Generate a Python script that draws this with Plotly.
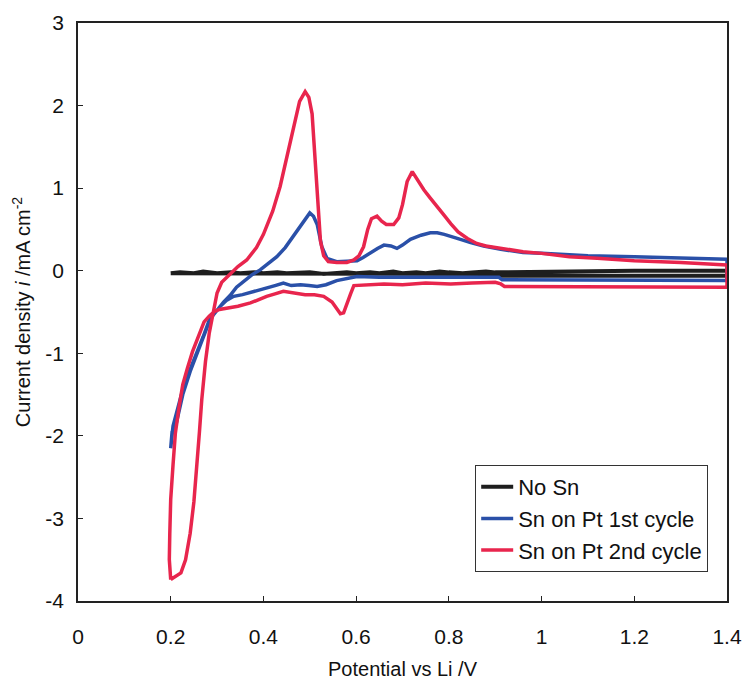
import plotly.graph_objects as go

# ---- data ----
no_sn_x = [0.20, 0.22, 0.25, 0.27, 0.30, 0.33, 0.35, 0.38, 0.40, 0.43, 0.45, 0.48, 0.50, 0.53, 0.55, 0.58,
           0.60, 0.63, 0.65, 0.68, 0.70, 0.73, 0.75, 0.78, 0.80, 0.83, 0.85, 0.88, 0.90, 1.00, 1.10, 1.20, 1.30, 1.40,
           1.40, 1.30, 1.20, 1.10, 1.00, 0.91, 0.90, 0.80, 0.70, 0.60, 0.50, 0.40, 0.30, 0.20]
no_sn_y = [-0.03, -0.02, -0.03, -0.01, -0.03, -0.02, -0.03, -0.02, -0.03, -0.02, -0.03, -0.03, -0.02, -0.04, -0.03, -0.02,
           -0.03, -0.02, -0.03, -0.01, -0.03, -0.02, -0.03, -0.01, -0.02, -0.03, -0.02, -0.01, -0.02, -0.01, -0.01, 0.00, 0.00, 0.00,
           -0.06, -0.06, -0.06, -0.06, -0.06, -0.06, -0.04, -0.04, -0.04, -0.04, -0.04, -0.03, -0.03, -0.03]

c1_x = [0.200, 0.203, 0.212, 0.226, 0.242, 0.258, 0.272, 0.283, 0.293, 0.300, 0.314, 0.328, 0.342, 0.357, 0.375,
        0.393, 0.410, 0.429, 0.447, 0.465, 0.485, 0.500, 0.508, 0.516, 0.526, 0.537, 0.558, 0.580, 0.602, 0.615,
        0.631, 0.646, 0.660, 0.675, 0.688, 0.700, 0.717, 0.740, 0.760, 0.775, 0.790, 0.804, 0.825, 0.847, 0.875,
        0.912, 0.960, 1.000, 1.100, 1.200, 1.300, 1.400,
        1.400, 1.300, 1.200, 1.100, 1.000, 0.915, 0.908, 0.850, 0.800, 0.750, 0.700, 0.650, 0.602, 0.580, 0.558,
        0.535, 0.516, 0.498, 0.480, 0.460, 0.443, 0.425, 0.407, 0.390, 0.372, 0.355, 0.336, 0.320, 0.307, 0.293,
        0.283, 0.270, 0.252, 0.238, 0.226, 0.214, 0.205, 0.200]
c1_y = [-2.15, -1.95, -1.85, -1.50, -1.22, -0.98, -0.76, -0.62, -0.52, -0.48, -0.38, -0.30, -0.20, -0.13, -0.05,
        0.01, 0.09, 0.17, 0.28, 0.42, 0.58, 0.70, 0.66, 0.56, 0.29, 0.15, 0.11, 0.11, 0.12, 0.16,
        0.22, 0.27, 0.31, 0.30, 0.27, 0.31, 0.38, 0.43, 0.46, 0.46, 0.44, 0.42, 0.38, 0.34, 0.30,
        0.26, 0.22, 0.21, 0.18, 0.17, 0.15, 0.14,
        -0.12, -0.12, -0.12, -0.11, -0.11, -0.11, -0.08, -0.08, -0.09, -0.08, -0.09, -0.08, -0.07, -0.09, -0.12,
        -0.17, -0.19, -0.18, -0.17, -0.18, -0.15, -0.18, -0.21, -0.24, -0.27, -0.29, -0.31, -0.36, -0.43, -0.52,
        -0.60, -0.80, -1.04, -1.25, -1.44, -1.68, -1.88, -2.15]

c2_x = [0.200, 0.210, 0.222, 0.232, 0.242, 0.250, 0.257, 0.262, 0.267, 0.275, 0.283, 0.292, 0.300, 0.310, 0.328,
        0.345, 0.364, 0.385, 0.400, 0.420, 0.436, 0.452, 0.465, 0.478, 0.490, 0.498, 0.505, 0.510, 0.516, 0.523,
        0.530, 0.540, 0.558, 0.580, 0.595, 0.606, 0.616, 0.625, 0.633, 0.645, 0.655, 0.665, 0.681, 0.692, 0.700,
        0.710, 0.721, 0.732, 0.746, 0.760, 0.775, 0.790, 0.804, 0.820, 0.840, 0.860, 0.880, 0.912, 0.960, 1.000,
        1.060, 1.120, 1.200, 1.300, 1.400,
        1.400, 1.300, 1.200, 1.100, 1.000, 0.920, 0.912, 0.900, 0.850, 0.804, 0.750, 0.700, 0.660, 0.620, 0.595,
        0.588, 0.580, 0.573, 0.566, 0.556, 0.548, 0.530, 0.510, 0.490, 0.465, 0.443, 0.425, 0.407, 0.390, 0.372,
        0.345, 0.321, 0.305, 0.293, 0.283, 0.272, 0.260, 0.247, 0.236, 0.226, 0.218, 0.210, 0.205, 0.200, 0.198,
        0.197, 0.200]
c2_y = [-3.74, -3.70, -3.66, -3.50, -3.18, -2.80, -2.37, -1.95, -1.56, -1.10, -0.76, -0.50, -0.27, -0.14, -0.04,
        0.05, 0.13, 0.28, 0.44, 0.72, 1.02, 1.40, 1.75, 2.05, 2.17, 2.10, 1.90, 1.45, 0.94, 0.36,
        0.18, 0.11, 0.10, 0.10, 0.13, 0.18, 0.29, 0.50, 0.63, 0.66, 0.60, 0.56, 0.56, 0.64, 0.80,
        1.08, 1.20, 1.10, 0.98, 0.88, 0.78, 0.67, 0.57, 0.47, 0.39, 0.33, 0.30, 0.27, 0.23, 0.21,
        0.17, 0.15, 0.12, 0.10, 0.07,
        -0.20, -0.20, -0.19, -0.19, -0.19, -0.19, -0.16, -0.14, -0.15, -0.16, -0.15, -0.17, -0.16, -0.17, -0.18,
        -0.28, -0.42, -0.51, -0.52, -0.45, -0.38, -0.31, -0.29, -0.29, -0.27, -0.25, -0.28, -0.31, -0.35, -0.39,
        -0.43, -0.45, -0.47, -0.50, -0.55, -0.62, -0.80, -0.98, -1.18, -1.38, -1.65, -1.97, -2.35, -2.77, -3.18,
        -3.50, -3.74]

series_names = ["No Sn", "Sn on Pt 1st cycle", "Sn on Pt 2nd cycle"]
x_ticks = [0, 0.2, 0.4, 0.6, 0.8, 1.0, 1.2, 1.4]
x_tick_labels = ["0", "0.2", "0.4", "0.6", "0.8", "1", "1.2", "1.4"]
y_ticks = [-4, -3, -2, -1, 0, 1, 2, 3]
y_tick_labels = ["-4", "-3", "-2", "-1", "0", "1", "2", "3"]

colors = ["#1e1e1e", "#2a50a8", "#e8254d"]

fig = go.Figure()
for name, xs, ys, col, w in [
    (series_names[0], no_sn_x, no_sn_y, colors[0], 4),
    (series_names[1], c1_x, c1_y, colors[1], 3.5),
    (series_names[2], c2_x, c2_y, colors[2], 3.5),
]:
    fig.add_trace(go.Scatter(x=xs, y=ys, mode="lines", name=name,
                             line=dict(color=col, width=w)))

font_family = "Liberation Sans, Arial, sans-serif"
fig.update_layout(
    width=744, height=681,
    margin=dict(l=78, r=17, t=23, b=80, autoexpand=False),
    paper_bgcolor="white", plot_bgcolor="white",
    font=dict(family=font_family, color="#111", size=21),
    showlegend=True,
    legend=dict(x=0.612, y=0.2353, xanchor="left", yanchor="top",
                bordercolor="#333", borderwidth=1, bgcolor="white",
                font=dict(size=22, family=font_family), tracegroupgap=0,
                itemwidth=32),
)
fig.update_xaxes(range=[0, 1.4], tickvals=x_ticks, ticktext=x_tick_labels,
                 ticks="inside", ticklen=5, tickcolor="#222", showgrid=False, zeroline=False,
                 showline=True, linecolor="#222", linewidth=1.5, mirror=True,
                 automargin=False, ticklabelstandoff=16,
                 title=dict(text="Potential vs Li /V", font=dict(size=20), standoff=15),
                 tickfont=dict(size=21))
fig.update_yaxes(range=[-4, 3], tickvals=y_ticks, ticktext=y_tick_labels,
                 ticks="inside", ticklen=5, tickcolor="#222", showgrid=False, zeroline=False,
                 showline=True, linecolor="#222", linewidth=1.5, mirror=True,
                 automargin=False, ticklabelstandoff=8,
                 title=dict(text="Current density <i>i</i> /mA cm<sup>-2</sup>", font=dict(size=20), standoff=9),
                 tickfont=dict(size=21))

fig.write_html("out.html", config={"displayModeBar": False},
               post_script="document.body.style.margin='0px';")
